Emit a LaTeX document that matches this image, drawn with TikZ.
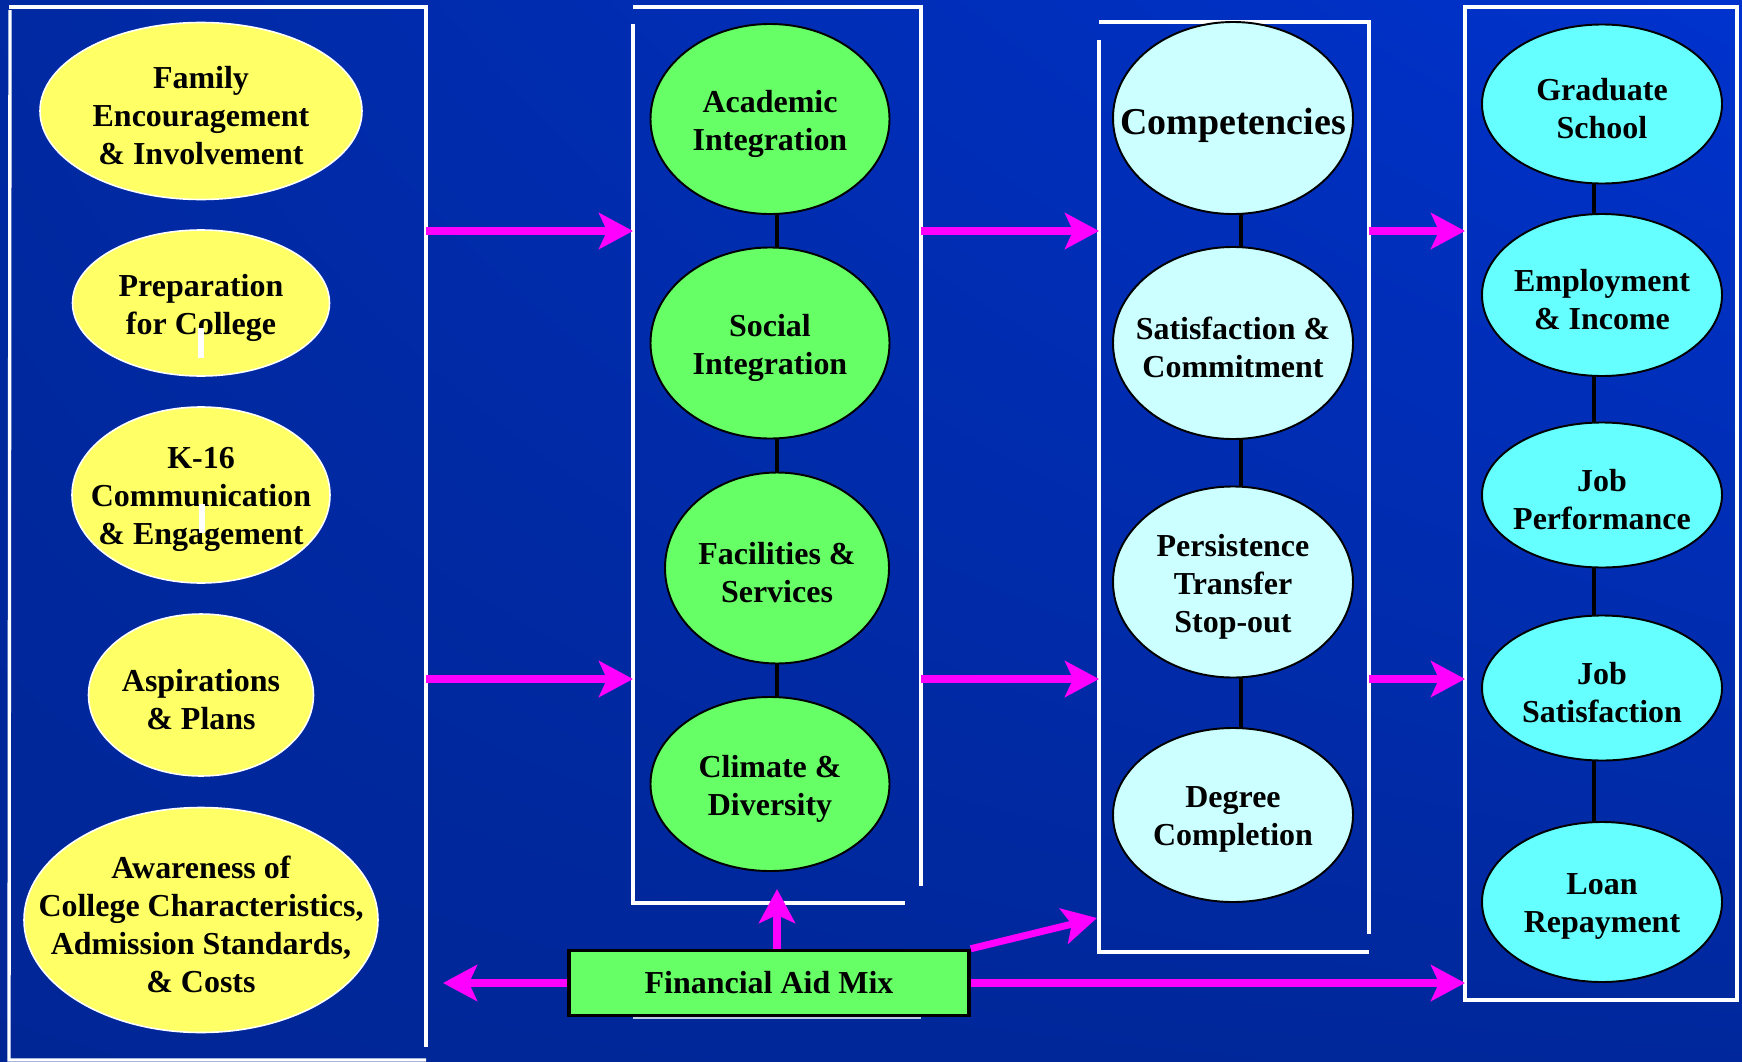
\documentclass[tikz,border=0pt]{standalone}
\usepackage{fontspec}
\setmainfont{Liberation Serif}
\usetikzlibrary{shapes.geometric,shadings,arrows.meta,calc,positioning}

\definecolor{bgdark}{RGB}{0,38,150}
\definecolor{bgmid}{RGB}{0,41,162}
\definecolor{bgright}{RGB}{0,40,156}
\definecolor{bglight}{RGB}{0,51,206}
\definecolor{ovalyellow}{RGB}{255,255,102}
\definecolor{ovalgreen}{RGB}{102,255,102}
\definecolor{ovalpale}{RGB}{204,255,255}
\definecolor{ovalcyan}{RGB}{102,255,255}
\definecolor{flowpink}{RGB}{255,0,255}

\def\px{0.02cm}
\newcommand{\ovalfont}{\bfseries\fontsize{18.2}{21.6}\selectfont}

\tikzset{
  sz/.style 2 args={minimum width=#1*\px, minimum height=#2*\px},
  oval/.style={ellipse, inner sep=0pt, outer sep=0pt},
  yoval/.style={oval, fill=ovalyellow, draw=white, line width=0.9pt},
  goval/.style={oval, fill=ovalgreen, draw=black, line width=1.1pt},
  poval/.style={oval, fill=ovalpale, draw=black, line width=1.1pt},
  coval/.style={oval, fill=ovalcyan, draw=black, line width=1.1pt},
  every label/.style={align=center, font=\ovalfont, text=black, inner sep=0pt, yshift=-0.09cm},
  link/.style={black, line width=2.8pt},
  frameline/.style={white, line width=1.9pt},
  flow/.style={flowpink, line width=4pt,
    -{Stealth[length=0.68cm, width=0.72cm, inset=0.16cm]}},
}

\begin{document}
\begin{tikzpicture}[x=0.02cm, y=-0.02cm]
    % background
    \useasboundingbox (0,0) rectangle (1742,1062);
    \shade[upper left=bgmid, upper right=bglight, lower left=bgdark, lower right=bgright]
      (0,0) rectangle (1742,1062);
    % frame corners
    \coordinate (Anw) at (9,7);      \coordinate (Ase) at (426,1060);
    \coordinate (Bnw) at (633,7);    \coordinate (Bse) at (921,903);
    \coordinate (Cnw) at (1099,22);  \coordinate (Cse) at (1369,952);
    \coordinate (Dnw) at (1465,7);   \coordinate (Dse) at (1737,1000);
    \coordinate (rowtop) at (0,231); \coordinate (rowbot) at (0,679);
    % frames
    \draw[frameline] (Anw) -- (Anw -| Ase) -- ($(Ase)+(0,-13)$);
    \draw[frameline] ($(Anw)+(1,3)$) -- (Anw |- Ase) -- (Ase);
    \draw[frameline] (Bnw) -- (Bnw -| Bse) -- ($(Bse)+(0,-17)$);
    \draw[frameline] ($(Bnw)+(0,17)$) -- (Bnw |- Bse) -- ($(Bse)+(-16,0)$);
    \draw[frameline] (Cnw) -- (Cnw -| Cse) -- ($(Cse)+(0,-18)$);
    \draw[frameline] ($(Cnw)+(0,18)$) -- (Cnw |- Cse) -- (Cse);
    \draw[frameline] (Dnw) rectangle (Dse);
    \draw[white!75!bgdark, line width=0.8pt] (633,1018) -- (921,1018);

    % first column
    \node[yoval, sz={322}{177}, label=center:{Family\\Encouragement\\\& Involvement}] (family) at (201,111) {};
    \node[yoval, sz={257}{146}, label=center:{Preparation\\for College}] (prep) at (201,303) {};
    \node[yoval, sz={258}{176}, label=center:{K-16\\Communication\\\& Engagement}] (kappa) at (201,495) {};
    \node[yoval, sz={225}{162}, label=center:{Aspirations\\\& Plans}] (aspir) at (201,695) {};
    \node[yoval, sz={354}{225}, label=center:{Awareness of\\College Characteristics,\\Admission Standards,\\\& Costs}] (aware) at (201,920) {};
    \draw[white, line width=3pt] (201,328) -- (201,358);
    \draw[white, line width=3pt] (202,504) -- (202,533);

    % second column
    \node[goval, sz={239}{190}, label=center:{Academic\\Integration}] (acad) at (770,119) {};
    \node[goval, sz={239}{191}, label=center:{Social\\Integration}] (social) at (770,343) {};
    \node[goval, sz={224}{191}, label=center:{Facilities \&\\Services}] (facil) at (777,568) {};
    \node[goval, sz={239}{174}, label=center:{Climate \&\\Diversity}] (climate) at (770,784) {};
    \draw[link] (acad.south -| facil) -- (social.north -| facil);
    \draw[link] (social.south -| facil) -- (facil.north);
    \draw[link] (facil.south) -- (climate.north -| facil);

    % third column
    \coordinate (midline) at (1241,0);
    \node[poval, sz={240}{192}, label={[font=\bfseries\fontsize{21.6}{26}\selectfont, yshift=-0.06cm]center:Competencies}] (compet) at (1233,118) {};
    \node[poval, sz={240}{192}, label=center:{Satisfaction \&\\Commitment}] (satis) at (1233,343) {};
    \node[poval, sz={240}{191}, label=center:{Persistence\\Transfer\\Stop-out}] (persist) at (1233,582) {};
    \node[poval, sz={240}{174}, label=center:{Degree\\Completion}] (degree) at (1233,815) {};
    \draw[link] (compet.south -| midline) -- (satis.north -| midline);
    \draw[link] (satis.south -| midline) -- (persist.north -| midline);
    \draw[link] (persist.south -| midline) -- (degree.north -| midline);

    % fourth column
    \coordinate (outline) at (1594,0);
    \node[coval, sz={240}{159}, label=center:{Graduate\\School}] (grad) at (1602,104) {};
    \node[coval, sz={240}{162}, label=center:{Employment\\\& Income}] (employ) at (1602,295) {};
    \node[coval, sz={240}{145}, label=center:{Job\\Performance}] (jobperf) at (1602,495) {};
    \node[coval, sz={240}{145}, label=center:{Job\\Satisfaction}] (jobsat) at (1602,688) {};
    \node[coval, sz={240}{160}, label=center:{Loan\\Repayment}] (loan) at (1602,902) {};
    \draw[link] (grad.south -| outline) -- (employ.north -| outline);
    \draw[link] (employ.south -| outline) -- (jobperf.north -| outline);
    \draw[link] (jobperf.south -| outline) -- (jobsat.north -| outline);
    \draw[link] (jobsat.south -| outline) -- (loan.north -| outline);

    % flows between columns
    \draw[flow] (Ase |- rowtop) -- (Bnw |- rowtop);
    \draw[flow] (Ase |- rowbot) -- (Bnw |- rowbot);
    \draw[flow] (Bse |- rowtop) -- (Cnw |- rowtop);
    \draw[flow] (Bse |- rowbot) -- (Cnw |- rowbot);
    \draw[flow] (Cse |- rowtop) -- (Dnw |- rowtop);
    \draw[flow] (Cse |- rowbot) -- (Dnw |- rowbot);

    % financial aid
    \node[rectangle, fill=ovalgreen, draw=black, line width=2pt, sz={400}{65}, font=\ovalfont] (aid) at (769,983) {Financial Aid Mix};
    \coordinate (aidleft) at (443,983);
    \coordinate (aidup) at (777,889);
    \coordinate (aiddiag) at (1097,918);
    \draw[flow] (aid.west) -- (aidleft);
    \draw[flow] (aid.north -| aidup) -- (aidup);
    \draw[flow] (aid.north east) -- (aiddiag);
    \draw[flow] (aid.east) -- (Dnw |- aid.east);
\end{tikzpicture}
\end{document}
